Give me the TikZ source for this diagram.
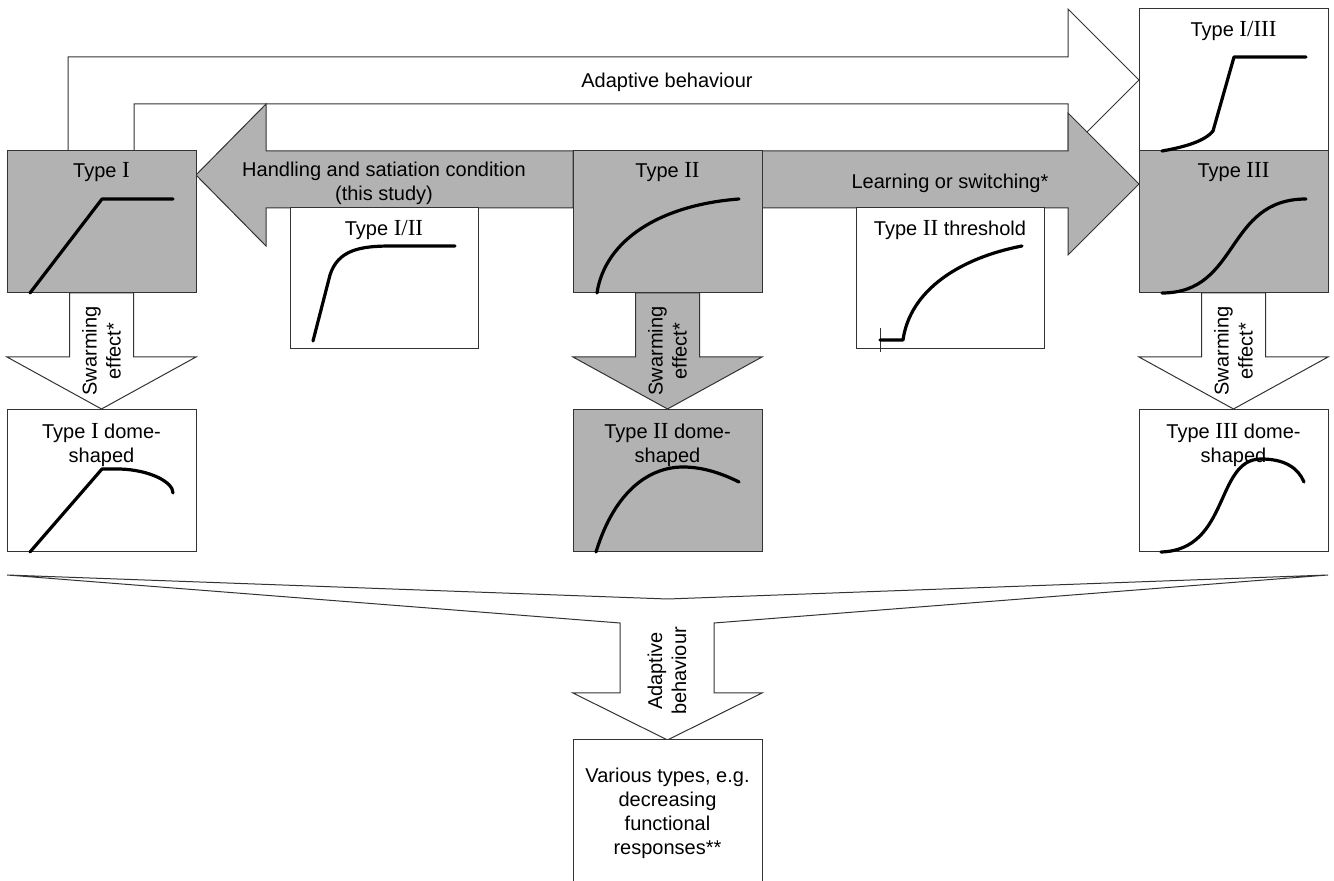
\documentclass[tikz,border=0pt]{standalone}
\usepackage{fontspec}
\setmainfont{Liberation Sans}
\newfontfamily\romfont{Liberation Serif}
\newcommand{\typnum}[1]{{\romfont\fontsize{11.5}{12}\selectfont #1}}
\usetikzlibrary{calc}

\tikzset{
  boxline/.style={draw=black!80,line width=0.5pt},
  panel/.style={boxline,fill=white,minimum width=94.5pt,minimum height=71pt,inner sep=0pt,outer sep=0pt},
  greypanel/.style={panel,fill=gray!60},
  curve/.style={black,line width=1.6pt,line cap=round,line join=round},
  lab/.style={inner sep=0pt,align=center}
}

\begin{document}
\begin{tikzpicture}[x=0.5pt,y=-0.5pt]
\clip (0,0) rectangle (1334,881);

% big bent arrow on top
\filldraw[boxline,fill=white] (68,151) -- (68,57) -- (1068,57) -- (1068,9) -- (1139,80) -- (1068,151) -- (1068,104) -- (134,104) -- (134,151) -- cycle;
\node[lab,anchor=base] (adapttop) at (667,88) {Adaptive behaviour};

% grey block arrows of the middle row
\filldraw[boxline,fill=gray!60] (573,151) -- (266,151) -- (266,104) -- (196,175) -- (266,246) -- (266,208) -- (573,208) -- cycle;
\filldraw[boxline,fill=gray!60] (762,151) -- (1068,151) -- (1068,113) -- (1139,184) -- (1068,255) -- (1068,208) -- (762,208) -- cycle;
\node[lab] (handling) at (384,183) {Handling and satiation condition\\(this study)};
\node[lab,anchor=base] (learning) at (950,189) {Learning or switching*};

% swarming arrows
\foreach \cx/\col in {101.5/white,667.5/gray!60,1233.5/white}{
  \filldraw[boxline,fill=\col] ({\cx-32},293) -- ({\cx-32},357) -- ({\cx-94.5},357) -- (\cx,409) -- ({\cx+94.5},357) -- ({\cx+32},357) -- ({\cx+32},293) -- cycle;
  \node[lab,rotate=90] at (\cx,351) {Swarming\\effect*};
}

% panels
\node[greypanel] (t1) at (101.5,222) {};
\node[greypanel] (t2) at (667.5,222) {};
\node[greypanel] (t3) at (1233.5,222) {};
\node[panel] (t13) at (1233.5,80) {};
\node[panel,minimum width=94pt,minimum height=70.5pt] (t12) at (384,278.5) {};
\node[panel,minimum width=94pt,minimum height=70.5pt] (t2th) at (950,278.5) {};
\node[panel] (d1) at (101.5,481) {};
\node[greypanel] (d2) at (667.5,481) {};
\node[panel] (d3) at (1233.5,481) {};

\node[lab,anchor=base] at (101.5,178) {Type \typnum{I}};
\node[lab,anchor=base] at (667.5,178) {Type \typnum{II}};
\node[lab,anchor=base] at (1233.5,178) {Type \typnum{III}};
\node[lab,anchor=base] at (1233.5,37) {Type \typnum{I/III}};
\node[lab,anchor=base] at (384,236) {Type \typnum{I/II}};
\node[lab,anchor=base] at (950,236) {Type \typnum{II} threshold};
\node[lab] at (101.5,445) {Type \typnum{I} dome-\\shaped};
\node[lab] at (667.5,445) {Type \typnum{II} dome-\\shaped};
\node[lab] at (1233.5,445) {Type \typnum{III} dome-\\shaped};

% curves
\draw[curve] (30,293) -- (102,199) -- (173,199);
\draw[curve] (597,293) .. controls (605,240) and (660,205) .. (739,199);
\draw[curve] (1162,293) .. controls (1240,293) and (1225,199) .. (1306,199);
\draw[curve] (1162,151) .. controls (1185,147) and (1205,141) .. (1213,131) -- (1234,57) -- (1306,57);
\draw[curve] (313,341) -- (330,275) .. controls (338,250) and (360,246) .. (391,246) -- (455,246);
\draw[boxline] (880,328) -- (880,352);
\draw[curve] (880,340) -- (903,340) .. controls (910,290) and (960,258) .. (1022,246);
\draw[curve] (30,552) -- (102,469) -- (120,469) .. controls (150,470) and (173,482) .. (173,493);
\draw[curve] (596,552) .. controls (615,490) and (650,467) .. (683,467) .. controls (705,467) and (725,475) .. (739,482);
\draw[curve] (1161,552) .. controls (1230,550) and (1215,459) .. (1261,459) .. controls (1285,459) and (1298,468) .. (1304,482);

% funnel to the bottom
\filldraw[boxline,fill=white] (7,575) -- (667.5,599) -- (1328,575) -- (714,623) -- (714,693) -- (762,693) -- (667.5,740) -- (573,693) -- (620,693) -- (620,623) -- cycle;
\node[lab,rotate=90] (adaptbot) at (667,671) {Adaptive\\behaviour};
\node[panel,anchor=north,minimum height=95pt] (various) at (667.5,740) {};
\node[lab] at (667.5,813) {Various types, e.g.\\decreasing\\functional\\responses**};
\end{tikzpicture}
\end{document}
